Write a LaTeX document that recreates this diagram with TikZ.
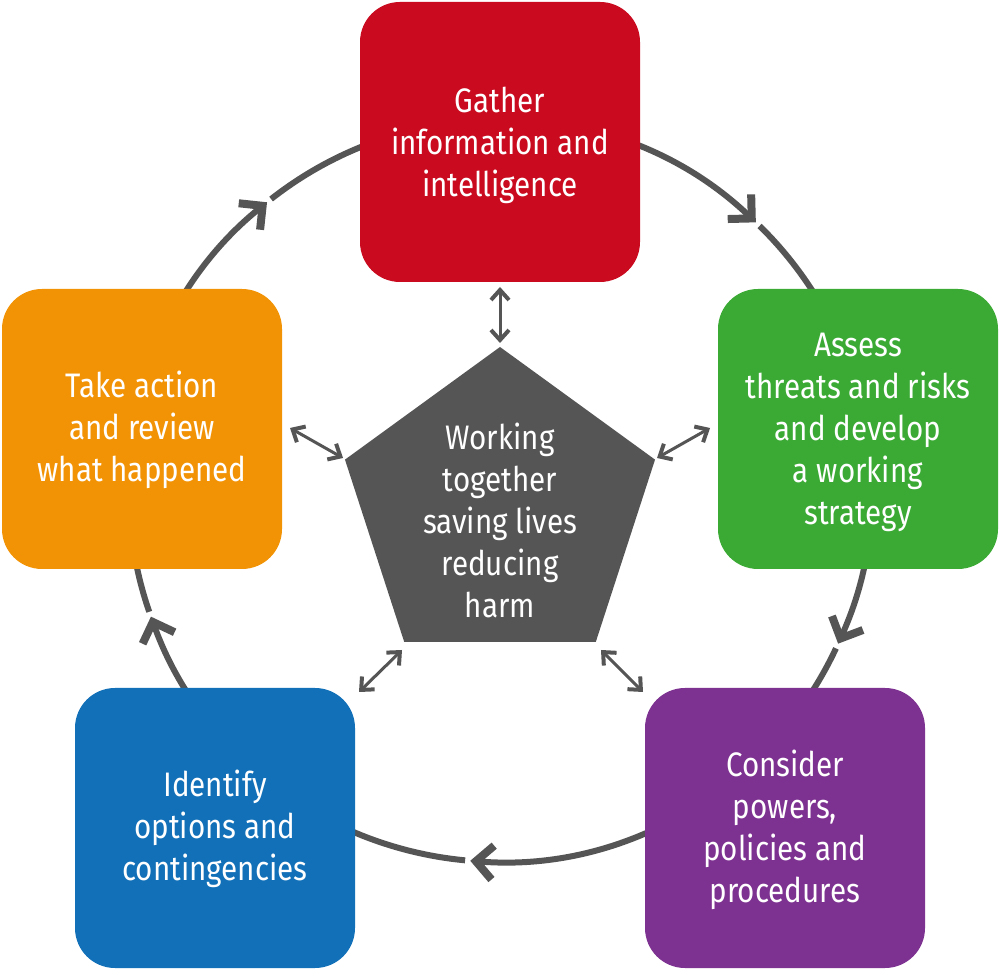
\documentclass[tikz,border=0pt]{standalone}
\usepackage{fontspec}
\setmainfont{Fira Sans}[FakeStretch=0.87]
\usetikzlibrary{shapes.geometric,arrows.meta,calc}
\definecolor{cred}{HTML}{C90A1F}
\definecolor{cgreen}{HTML}{3BAA35}
\definecolor{cpurple}{HTML}{7D3190}
\definecolor{cblue}{HTML}{1170B8}
\definecolor{corange}{HTML}{F29306}
\definecolor{cgray}{HTML}{555555}
\begin{document}
\begin{tikzpicture}[x=1pt,y=1pt,
  stagebox/.style={rectangle, rounded corners=40pt, minimum width=280pt, minimum height=280pt,
    inner sep=0pt},
  boxtext/.style={align=center, text=white, font=\fontsize{34}{42}\selectfont},
  ring/.style={draw=cgray, line width=6pt, -{Straight Barb[length=17pt,width=34pt,line width=8pt]}},
  link/.style={draw=cgray, line width=3pt,
    {Straight Barb[length=10pt,width=18pt,line width=4pt]}-{Straight Barb[length=10pt,width=18pt,line width=4pt]}}]
\useasboundingbox (0,0) rectangle (1000,971);
\coordinate (C) at (500,480);
% ring segments
\draw[ring] ($(C)+(128.1:371)$) arc[start angle=128.1, end angle=46.4, radius=371];
\draw[ring] ($(C)+(45.6:371)$) arc[start angle=45.6, end angle=-24.3, radius=371];
\draw[ring] ($(C)+(-25.1:371)$) arc[start angle=-25.1, end angle=-94.6, radius=371];
\draw[ring] ($(C)+(-95.4:371)$) arc[start angle=-95.4, end angle=-160.2, radius=371];
\draw[ring] ($(C)+(-161.0:371)$) arc[start angle=-161.0, end angle=-231.1, radius=371];
% boxes
\node[stagebox, fill=cred] (gather) at (500,829) {};
\node[stagebox, fill=cgreen] (assess) at (858,542) {};
\node[stagebox, fill=cpurple] (consider) at (785,143) {};
\node[stagebox, fill=cblue] (identify) at (215,143) {};
\node[stagebox, fill=corange] (action) at (142,542) {};
\node[boxtext] (gathert) at ($(gather)+(0,-3)$) {Gather\\information and\\intelligence};
\node[boxtext] (assesst) at ($(assess)+(0,-3)$) {Assess\\threats and risks\\and develop\\a working\\strategy};
\node[boxtext] (considert) at ($(consider)+(0,-2)$) {Consider\\powers,\\policies and\\procedures};
\node[boxtext] (identifyt) at ($(identify)+(0,-1)$) {Identify\\options and\\contingencies};
\node[boxtext] (actiont) at ($(action)+(0,-1)$) {Take action\\and review\\what happened};
% hub
\node[regular polygon, regular polygon sides=5, minimum size=326pt, inner sep=0pt, fill=cgray] (hub) at (500,461) {};
\node[boxtext] (hubt) at (500,451) {Working\\together\\saving lives\\reducing\\harm};
% link end points
\coordinate (tA) at (500,684); \coordinate (tB) at (500,628);
\coordinate (rA) at (657,513); \coordinate (rB) at (710,543);
\coordinate (lA) at (290,543); \coordinate (lB) at (343,513);
\coordinate (blA) at (402,321); \coordinate (blB) at (359,279);
\coordinate (brA) at (601,321); \coordinate (brB) at (643,279);
\draw[link] (tA) -- (tB);
\draw[link] (rA) -- (rB);
\draw[link] (lA) -- (lB);
\draw[link] (blA) -- (blB);
\draw[link] (brA) -- (brB);
\end{tikzpicture}
\end{document}
